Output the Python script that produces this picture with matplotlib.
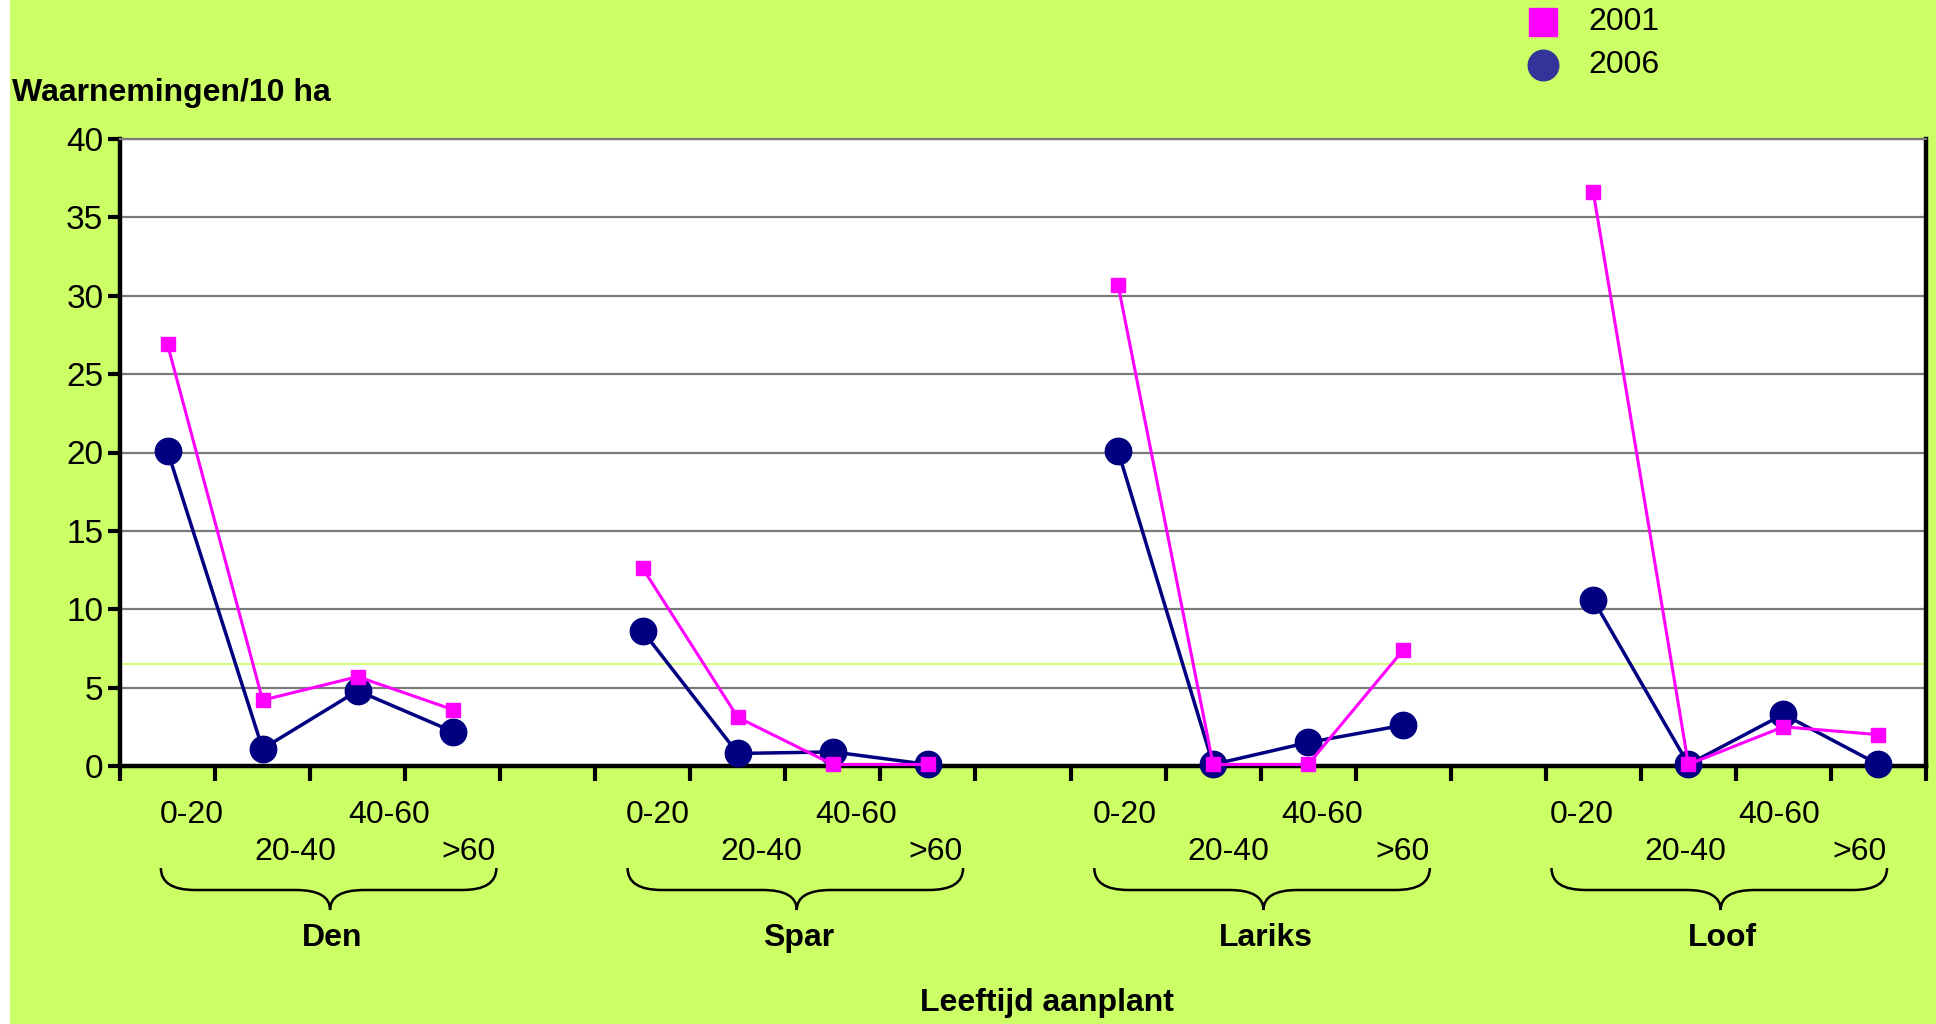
import numpy as np
import matplotlib
matplotlib.use('Agg')
import matplotlib.pyplot as plt
import matplotlib.transforms as mtransforms
from matplotlib.lines import Line2D
from matplotlib.patches import Rectangle, PathPatch
from matplotlib.path import Path

plt.rcParams['font.family'] = ['Liberation Sans', 'DejaVu Sans']

# data
groups = ['Den', 'Spar', 'Lariks', 'Loof']
ages = ['0-20', '20-40', '40-60', '>60']
years = ['2001', '2006']

obs_2001 = [26.9, 4.2, 5.7, 3.6,
            12.6, 3.1, 0.1, 0.1,
            30.7, 0.1, 0.1, 7.4,
            36.6, 0.1, 2.5, 2.0]
obs_2006 = [20.1, 1.1, 4.8, 2.2,
            8.6, 0.8, 0.9, 0.1,
            20.1, 0.1, 1.5, 2.6,
            10.6, 0.1, 3.3, 0.1]
yticks = [0, 5, 10, 15, 20, 25, 30, 35, 40]
lime_line = 6.5

lime = '#CCFF66'
pink = '#FF00FF'
navy = '#000080'
fs = 23

W, H = 1936, 1024
fig = plt.figure(figsize=(W / 100, H / 100), dpi=100)
fig.patch.set_facecolor('white')
fig.add_artist(Rectangle((10 / W, 0), 1 - 10 / W, 1, transform=fig.transFigure,
                         facecolor=lime, edgecolor='none', zorder=-10))

ax = fig.add_axes([120 / W, 258 / H, 1806 / W, 627 / H])
ax.set_facecolor('white')


def series_xy(vals):
    xs, ys = [], []
    for g in range(len(groups)):
        for j in range(len(ages)):
            xs.append(g * 5 + j + 0.5)
            ys.append(vals[g * 4 + j])
        xs.append(np.nan)
        ys.append(np.nan)
    return xs, ys


x6, y6 = series_xy(obs_2006)
x1, y1 = series_xy(obs_2001)
ax.plot(x6, y6, color=navy, lw=2.5, marker='o', ms=19, mfc=navy, mec=navy,
        zorder=4, clip_on=False)
ax.plot(x1, y1, color=pink, lw=2.2, marker='s', ms=10.5, mfc=pink, mec=pink,
        zorder=5, clip_on=False)

ax.set_xlim(0, 19)
ax.set_ylim(0, 40)
ax.set_yticks(yticks)
ax.set_xticks(np.arange(0, 20))
ax.set_xticklabels([])
for y in yticks[1:]:
    ax.axhline(y, color='#7a7a7a', lw=1.6, zorder=1)
ax.axhline(lime_line, color=lime, lw=1.2, zorder=1)

ax.tick_params(axis='y', direction='out', length=9, width=3, labelsize=24, pad=3)
ax.tick_params(axis='x', direction='out', length=11, width=3)
for s in ['left', 'bottom', 'right']:
    ax.spines[s].set_linewidth(3.2)
    ax.spines[s].set_color('black')
ax.spines['top'].set_color('#7a7a7a')
ax.spines['top'].set_linewidth(1.6)
ax.spines['bottom'].set_zorder(3)

# category labels under the axis
trans = mtransforms.blended_transform_factory(ax.transData, fig.transFigure)
label_shift = [0, 4.91, 9.82, 14.63]
age_pos = [0.75, 1.84, 2.83, 3.67]
age_row = [1 - 815 / H, 1 - 852 / H, 1 - 815 / H, 1 - 852 / H]
brace_left, brace_tip, brace_right = 0.43, 2.21, 3.96
y_top, y_mid, y_tip = 1 - 868 / H, 1 - 890 / H, 1 - 910 / H
r = 0.36

for g, name in enumerate(groups):
    off = label_shift[g]
    for j, a in enumerate(ages):
        ax.text(off + age_pos[j], age_row[j], a, transform=trans, ha='center',
                va='center', fontsize=fs)
    xl, xm, xr = off + brace_left, off + brace_tip, off + brace_right
    verts = [(xl, y_top), (xl, y_mid), (xl + r, y_mid), (xm - r, y_mid),
             (xm, y_mid), (xm, y_tip),
             (xm, y_mid), (xm + r, y_mid), (xr - r, y_mid),
             (xr, y_mid), (xr, y_top)]
    codes = [Path.MOVETO, Path.CURVE3, Path.CURVE3, Path.LINETO,
             Path.CURVE3, Path.CURVE3,
             Path.CURVE3, Path.CURVE3, Path.LINETO,
             Path.CURVE3, Path.CURVE3]
    ax.add_artist(PathPatch(Path(verts, codes), transform=trans, fill=False,
                            lw=1.8, edgecolor='black', clip_on=False))
    ax.text(off + 2.23, 1 - 938 / H, name, transform=trans, ha='center',
            va='center', fontsize=fs, fontweight='bold')

fig.text(1047 / W, 1 - 1003 / H, 'Leeftijd aanplant', ha='center', va='center',
         fontsize=fs, fontweight='bold')
fig.text(12 / W, 1 - 93 / H, 'Waarnemingen/10 ha', ha='left', va='center',
         fontsize=fs, fontweight='bold')

# legend
fig.add_artist(Line2D([1543 / W], [1 - 22 / H], transform=fig.transFigure,
                      marker='s', ms=20, mfc=pink, mec=pink, ls='none'))
fig.add_artist(Line2D([1543 / W], [1 - 65 / H], transform=fig.transFigure,
                      marker='o', ms=22, mfc='#333399', mec='#333399', ls='none'))
fig.text(1588 / W, 1 - 22 / H, years[0], ha='left', va='center', fontsize=fs)
fig.text(1588 / W, 1 - 65 / H, years[1], ha='left', va='center', fontsize=fs)

fig.savefig('out.png', dpi=100, facecolor=fig.get_facecolor())
